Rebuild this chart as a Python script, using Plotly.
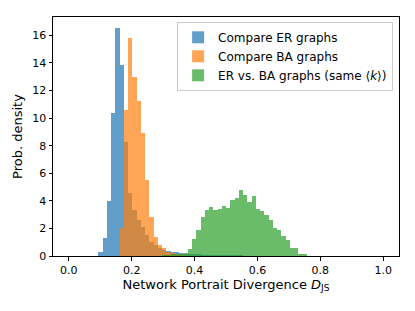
import plotly.graph_objects as go

# histogram bins: 74 equal bins over [0, 1]
n_bins = 74
bin_width = 1.0 / n_bins

# bin index -> density
er_bins = list(range(7, 41))
er_vals = [0.31, 1.28, 3.98, 10.4, 16.5, 13.86, 8.27, 4.58, 3.3, 2.6, 2.1, 1.5, 1.03, 0.79,
           0.55, 0.43, 0.36, 0.31, 0.26, 0.2, 0.15, 0.12, 0.1, 0.08, 0.06, 0.05, 0.04, 0.03,
           0.03, 0.02, 0.02, 0.02, 0.01, 0.01]

ba_bins = list(range(12, 28))
ba_vals = [2.05, 10.57, 15.8, 12.97, 11.24, 8.89, 5.48, 2.83, 1.39, 0.79, 0.55, 0.31, 0.2,
           0.12, 0.08, 0.05]

erba_bins = list(range(22, 56))
erba_vals = [0.03, 0.05, 0.08, 0.1, 0.12, 0.22, 0.5, 1.2, 1.9, 2.8, 3.3, 3.55, 3.3, 3.4,
             3.6, 3.5, 4.07, 4.22, 4.8, 4.45, 3.92, 4.37, 3.4, 3.25, 2.95, 2.6, 2.0, 1.85,
             1.46, 1.15, 0.58, 0.58, 0.18, 0.18]

series = [
    ("Compare ER graphs", er_bins, er_vals, "#1f77b4"),
    ("Compare BA graphs", ba_bins, ba_vals, "#ff7f0e"),
    ("ER vs. BA graphs (same ⟨<i>k</i>⟩)", erba_bins, erba_vals, "#2ca02c"),
]

x_ticks = [0.0, 0.2, 0.4, 0.6, 0.8, 1.0]
y_ticks = [0, 2, 4, 6, 8, 10, 12, 14, 16]

fig = go.Figure()
for name, bins, vals, color in series:
    centers = [(b + 0.5) * bin_width for b in bins]
    fig.add_trace(go.Bar(
        x=centers, y=vals, width=bin_width, name=name,
        marker=dict(color=color, line=dict(width=0)), opacity=0.7,
    ))

font = "DejaVu Sans"
# page has an 8px body margin, so the figure is 8px smaller and margins shifted
fig.update_layout(
    width=407, height=303,
    margin=dict(l=45, r=16, t=9, b=55, autoexpand=False),
    paper_bgcolor="white", plot_bgcolor="white",
    barmode="overlay", bargap=0,
    font=dict(family=font, size=11, color="black"),
    showlegend=True,
    legend=dict(
        x=0.983, y=0.98, xanchor="right", yanchor="top",
        bgcolor="rgba(255,255,255,0.8)", bordercolor="#cccccc", borderwidth=1,
        font=dict(size=12), tracegroupgap=0, itemwidth=30,
    ),
)
fig.update_xaxes(
    range=[-0.05, 1.05], tickvals=x_ticks, ticktext=[f"{t:.1f}" for t in x_ticks],
    showline=True, linecolor="black", linewidth=1, mirror=True,
    ticks="outside", ticklen=3.5, tickcolor="black", showgrid=False, zeroline=False,
    automargin=True,
    title=dict(text="Network Portrait Divergence <i>D</i><sub>JS</sub>", standoff=2),
)
fig.update_yaxes(
    range=[0, 17.33], tickvals=y_ticks,
    showline=True, linecolor="black", linewidth=1, mirror=True,
    ticks="outside", ticklen=3.5, tickcolor="black", showgrid=False, zeroline=False,
    automargin=True,
    title=dict(text="Prob. density", standoff=6),
)

fig.write_html("out.html")
